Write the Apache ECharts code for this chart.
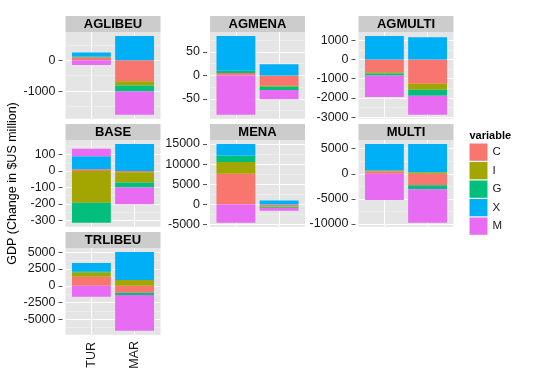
<!DOCTYPE html>
<html><head><meta charset="utf-8">
<script src="https://cdn.jsdelivr.net/npm/echarts@6/dist/echarts.min.js"></script>
<style>html,body{margin:0;padding:0;background:#fff}#c{width:540px;height:386px}</style>
</head><body><div id="c"></div><script>
// ---- data ----
const categories = ['TUR', 'MAR'];
const panels = ['AGLIBEU', 'AGMENA', 'AGMULTI', 'BASE', 'MENA', 'MULTI', 'TRLIBEU'];
const variables = ['C', 'I', 'G', 'X', 'M'];
// each entry: [TUR, MAR], in panel order
const C = [[90, -680], [5, -22], [-665, -1270], [10, -8], [7600, -500], [500, -2300], [1350, -1040]];
const I = [[10, -140], [0, -2], [-60, -310], [-193, -62], [2900, -200], [150, 300], [650, 850]];
const G = [[20, -190], [5, -7], [-110, -310], [-123, -30], [1650, -150], [50, -800], [150, -340]];
const X = [[130, 790], [74, 24], [1220, 1150], [80, 165], [2850, 1000], [5250, 5650], [1250, 4200]];
const M = [[-150, -760], [-84, -20], [-1120, -990], [45, -102], [-4550, -700], [-5250, -6700], [-1650, -5350]];
const yTicks = [
  [0, -1000],
  [50, 0, -50],
  [1000, 0, -1000, -2000, -3000],
  [100, 0, -100, -200, -300],
  [15000, 10000, 5000, 0, -5000],
  [5000, 0, -5000, -10000],
  [5000, 2500, 0, -2500, -5000]
];
const yTitle = 'GDP (Change in $US million)';
const legendTitle = 'variable';
// ---- style / layout ----
const colors = ['#F8766D', '#A3A500', '#00BF7D', '#00B0F6', '#E76BF3'];
const FONT = '"Liberation Sans", Arial, Helvetica, sans-serif';
const colLeft = [65.5, 210, 358.5];
const rowTop = [32, 140, 248];
const PW = 95, PH = 86.8, STRIP = 16;
const valuesByVar = {C, I, G, X, M};

const grids = [], xAxes = [], yAxes = [], series = [], graphics = [];
panels.forEach((p, i) => {
  const r = Math.floor(i / 3), c = i % 3;
  grids.push({left: colLeft[c], top: rowTop[r], width: PW, height: PH, show: true,
    backgroundColor: '#E5E5E5', borderWidth: 0});
  const pos = [0, 0], neg = [0, 0];
  variables.forEach(v => valuesByVar[v][i].forEach((val, k) => { if (val >= 0) pos[k] += val; else neg[k] += val; }));
  const hi = Math.max(...pos), lo = Math.min(...neg);
  const pad = (hi - lo) * 0.05;
  const ymin = lo - pad, ymax = hi + pad;
  const major = yTicks[i];
  const step = Math.abs(major[0] - major[1]);
  const minorSet = [];
  major.forEach(t => [t + step / 2, t - step / 2].forEach(m => {
    if (m > ymin && m < ymax && minorSet.indexOf(m) < 0 && major.indexOf(m) < 0) minorSet.push(m);
  }));
  const isBottom = p === 'TRLIBEU';
  xAxes.push({gridIndex: i, type: 'value', min: 0.4, max: 2.6,
    axisLine: {show: false},
    axisTick: {show: isBottom, length: 4, customValues: [1, 2], lineStyle: {color: '#555'}},
    axisLabel: {show: isBottom, customValues: [1, 2], formatter: v => categories[Math.round(v) - 1] || '',
      rotate: 90, align: 'center', verticalAlign: 'middle', margin: 20,
      fontSize: 12.5, color: '#1a1a1a', fontFamily: FONT},
    splitLine: {show: true, lineStyle: {color: '#FFFFFF', width: 1}}
  });
  yAxes.push({gridIndex: i, type: 'value', position: 'left', min: ymin, max: ymax,
    axisLine: {show: false}, axisTick: {show: false, customValues: minorSet},
    axisLabel: {show: false},
    splitLine: {show: true, lineStyle: {color: '#F2F2F2', width: 0.6}}
  });
  yAxes.push({gridIndex: i, type: 'value', position: 'left', min: ymin, max: ymax, offset: 3,
    axisLine: {show: false},
    axisTick: {show: true, length: 4, customValues: major, lineStyle: {color: '#555'}},
    axisLabel: {customValues: major, margin: 7, fontSize: 12.5, color: '#1a1a1a', fontFamily: FONT,
      formatter: v => String(Math.round(v))},
    splitLine: {show: true, lineStyle: {color: '#FFFFFF', width: 1}}
  });
  variables.forEach((v, vi) => {
    series.push({type: 'bar', name: v, xAxisIndex: i, yAxisIndex: 2 * i + 1, stack: 'stk' + i,
      barWidth: 0.9 * PW / 2.2,
      encode: {x: 1, y: 0},
      data: valuesByVar[v][i].map((val, k) => [val, k + 1]),
      itemStyle: {color: colors[vi]}, emphasis: {disabled: true}, silent: true});
  });
  graphics.push({type: 'rect', shape: {x: colLeft[c], y: rowTop[r] - STRIP, width: PW, height: STRIP},
    style: {fill: '#CCCCCC'}, silent: true});
  graphics.push({type: 'text', x: colLeft[c] + PW / 2, y: rowTop[r] - STRIP / 2,
    style: {text: p, fill: '#000', font: 'bold 13px ' + FONT, textAlign: 'center', textVerticalAlign: 'middle'}, silent: true});
});
graphics.push({type: 'text', x: 12.5, y: 183.5, rotation: Math.PI / 2,
  style: {text: yTitle, fill: '#000', font: '12.5px ' + FONT, textAlign: 'center', textVerticalAlign: 'middle'}});
graphics.push({type: 'text', x: 469.5, y: 135.5,
  style: {text: legendTitle, fill: '#000', font: 'bold 11px ' + FONT, textAlign: 'left', textVerticalAlign: 'middle'}});

const chart = echarts.init(document.getElementById('c'));
chart.setOption({
  animation: false,
  backgroundColor: '#FFFFFF',
  grid: grids, xAxis: xAxes, yAxis: yAxes, series: series,
  legend: {data: variables, orient: 'vertical', left: 469.5, top: 143.5, padding: 0,
    itemWidth: 18, itemHeight: 17.3, itemGap: 1.2, icon: 'rect', selectedMode: false,
    textStyle: {fontSize: 11.5, color: '#1a1a1a', fontFamily: FONT}},
  graphic: graphics
});
</script></body></html>
